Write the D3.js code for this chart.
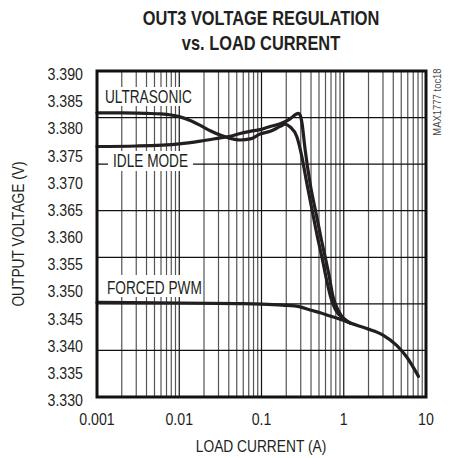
<!DOCTYPE html>
<html>
<head>
<meta charset="utf-8">
<script src="https://cdn.jsdelivr.net/npm/d3@7"></script>
<style>
  html, body { margin: 0; padding: 0; background: #fff; }
  svg { display: block; }
  text { font-family: "Liberation Sans", Arial, sans-serif; fill: #231f20; }
</style>
</head>
<body>
<svg id="chart" width="458" height="458"></svg>
<script>
// ---- data ----
const titleLines = ["OUT3 VOLTAGE REGULATION", "vs. LOAD CURRENT"];
const xTickValues = [0.001, 0.01, 0.1, 1, 10];
const xTickLabels = ["0.001", "0.01", "0.1", "1", "10"];
const yTickValues = [3.330, 3.335, 3.340, 3.345, 3.350, 3.355, 3.360, 3.365, 3.370, 3.375, 3.380, 3.385, 3.390];
const yGridDivisions = 7;
const seriesNames = ["ULTRASONIC", "IDLE MODE", "FORCED PWM"];

// [load current (A), output voltage (V)]
const ultrasonic = [
  [0.001,3.3823],[0.002,3.3823],[0.004,3.3822],[0.006,3.3821],[0.010,3.3816],[0.0136,3.3809],
  [0.018,3.3800],[0.0238,3.3790],[0.0315,3.3782],[0.0417,3.3776],[0.055,3.3773],[0.073,3.3775],
  [0.096,3.3784],[0.128,3.3789],[0.169,3.3798],[0.194,3.3802],[0.223,3.3797],[0.269,3.3779],
  [0.31,3.3742],[0.356,3.3693],[0.4285,3.3631],[0.489,3.3588],[0.542,3.3558],[0.596,3.3527],
  [0.693,3.3484],[0.797,3.3460],[0.99,3.3445],[1.2,3.3436]
];
const idleMode = [
  [0.001,3.3761],[0.003,3.3762],[0.010,3.3766],[0.018,3.3771],[0.0315,3.3777],[0.0417,3.3780],
  [0.055,3.3785],[0.073,3.3789],[0.096,3.3792],[0.128,3.3798],[0.169,3.3803],[0.223,3.3812],
  [0.26,3.3820],[0.282,3.3822],[0.297,3.3818],[0.31,3.3805],[0.34,3.3754],[0.39,3.3693],
  [0.471,3.3631],[0.537,3.3588],[0.594,3.3558],[0.656,3.3527],[0.743,3.3484],[0.855,3.3460],
  [0.99,3.3445],[1.2,3.3436]
];
const forcedPWM = [
  [0.001,3.3474],[0.01,3.3473],[0.05,3.3472],[0.1,3.3471],[0.18,3.3469],[0.295,3.3466],
  [0.391,3.3460],[0.517,3.3455],[0.684,3.3449],[0.904,3.3443],[1.2,3.3436],[1.9,3.3426],
  [3.0,3.3414],[4.4,3.3395],[5.8,3.3374],[8.1,3.3338]
];

// ---- layout ----
const svg = d3.select("#chart");
const pL = 97, pR = 426, pT = 71, pB = 397;
const x = d3.scaleLog().domain([0.001, 10]).range([pL, pR]);
const y = d3.scaleLinear().domain([3.330, 3.390]).range([pB, pT]);

// narrow text helper (condensed look by horizontal scaling)
function ntext(parent, str, tx, ty, size, sx, anchor, rot, weight) {
  const t = parent.append("text")
    .attr("transform", `translate(${tx},${ty})` + (rot ? ` rotate(${rot})` : "") + ` scale(${sx},1)`)
    .attr("text-anchor", anchor || "start")
    .style("font-size", size + "px")
    .text(str);
  if (weight) t.style("font-weight", weight);
  return t;
}

// title
titleLines.forEach((s, i) => ntext(svg, s, 261, 25 + i * 25, 20, 0.82, "middle", 0, "bold"));

// vertical grid (log minor + decade)
const vTicks = [];
for (let e = -3; e < 1; e++) for (let m = 1; m <= 9; m++) vTicks.push(m * Math.pow(10, e));
vTicks.push(10);
svg.append("g").selectAll("line").data(vTicks).join("line")
  .attr("x1", d => x(d)).attr("x2", d => x(d))
  .attr("y1", pT).attr("y2", pB)
  .attr("stroke", d => Math.abs(Math.log10(d) - Math.round(Math.log10(d))) < 1e-9 ? "#111" : "#555")
  .attr("stroke-width", 1.2);

// horizontal grid (7 divisions)
const hGrid = d3.range(1, yGridDivisions).map(k => 3.390 - k * (0.060 / yGridDivisions));
svg.append("g").selectAll("line").data(hGrid).join("line")
  .attr("x1", pL).attr("x2", pR)
  .attr("y1", d => y(d)).attr("y2", d => y(d))
  .attr("stroke", "#111").attr("stroke-width", 1.2);

// series label boxes + text
const labelPos = [
  {tx: 105, ty: 103, bx: 100, by: 87, bw: 97, bh: 19},
  {tx: 113, ty: 167, bx: 108, by: 151, bw: 85, bh: 20},
  {tx: 107, ty: 294, bx: 101, by: 275, bw: 101, bh: 22}
];
const lg = svg.append("g");
lg.selectAll("rect").data(labelPos).join("rect")
  .attr("x", d => d.bx).attr("y", d => d.by).attr("width", d => d.bw).attr("height", d => d.bh)
  .attr("fill", "#fff");
labelPos.forEach((p, i) => ntext(lg, seriesNames[i], p.tx, p.ty, 17.5, 0.78, "start"));

// curves
const line = d3.line().x(d => x(d[0])).y(d => y(d[1])).curve(d3.curveMonotoneX);
svg.append("g").selectAll("path").data([forcedPWM, ultrasonic, idleMode]).join("path")
  .attr("d", line).attr("fill", "none")
  .attr("stroke", "#231f20").attr("stroke-width", 3.2)
  .attr("stroke-linejoin", "round").attr("stroke-linecap", "round");

// frame
svg.append("rect").attr("x", pL).attr("y", pT)
  .attr("width", pR - pL).attr("height", pB - pT)
  .attr("fill", "none").attr("stroke", "#111").attr("stroke-width", 3);

// y tick labels
const yl = svg.append("g");
yTickValues.forEach(v => ntext(yl, d3.format(".3f")(v), 83, y(v) + 9, 16.5, 0.86, "end"));

// x tick labels
const xl = svg.append("g");
xTickValues.forEach((v, i) => ntext(xl, xTickLabels[i], x(v), 425, 16.5, 0.86, "middle"));

// axis titles
ntext(svg, "LOAD CURRENT (A)", 261, 452, 17, 0.81, "middle");
ntext(svg, "OUTPUT VOLTAGE (V)", 24, 234, 17, 0.81, "middle", -90);

// side note
ntext(svg, "MAX1777 toc18", 441, 102, 11, 0.86, "middle", -90).style("fill", "#444");
</script>
</body>
</html>
